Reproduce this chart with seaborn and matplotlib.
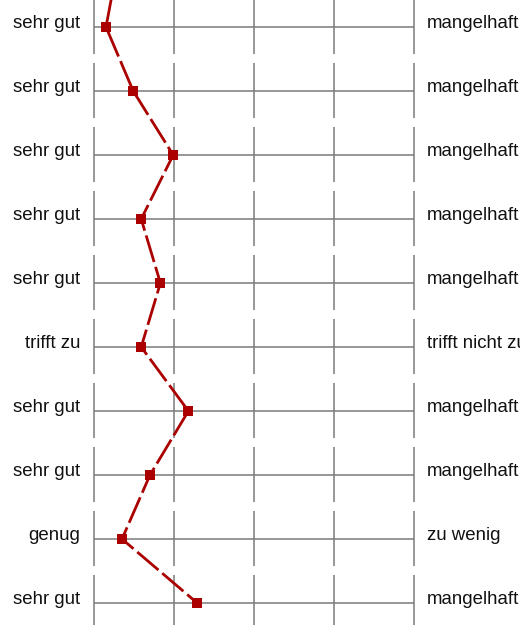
import numpy as np
import pandas as pd
import matplotlib
matplotlib.use("Agg")
import matplotlib.pyplot as plt
import seaborn as sns

# Skala 1 (links) bis 5 (rechts)
skala = [1, 2, 3, 4, 5]

# Zeilen (die erste liegt oberhalb des sichtbaren Ausschnitts)
zeilen = [-1, 0, 1, 2, 3, 4, 5, 6, 7, 8, 9]
mittelwerte = [1.30, 1.15, 1.49, 1.99, 1.59, 1.83, 1.59, 2.18, 1.70, 1.35, 2.29]

links = ["sehr gut", "sehr gut", "sehr gut", "sehr gut", "sehr gut",
         "trifft zu", "sehr gut", "sehr gut", "genug", "sehr gut"]
rechts = ["mangelhaft", "mangelhaft", "mangelhaft", "mangelhaft", "mangelhaft",
          "trifft nicht zu", "mangelhaft", "mangelhaft", "zu wenig", "mangelhaft"]


def profil_grafik():
    sns.set_theme(style="white")
    plt.rcParams["font.family"] = ["Liberation Sans", "DejaVu Sans"]

    fig = plt.figure(figsize=(5.2, 6.25), dpi=100)
    ax = fig.add_axes([0, 0, 1, 1])

    grau = "#7a7a7a"
    for i in range(len(links)):
        ax.hlines(i, skala[0], skala[-1], color=grau, lw=1.1, zorder=1)
        ax.vlines(skala, i - 28 / 64, i + 27 / 64, color=grau, lw=1.1, zorder=1)
        ax.text(skala[0] - 14 / 80, i + 1.5 / 64, links[i], ha="right", va="baseline",
                fontsize=13.4, color="#111111")
        ax.text(skala[-1] + 13 / 80, i + 1.5 / 64, rechts[i], ha="left", va="baseline",
                fontsize=13.4, color="#111111")

    df = pd.DataFrame({"wert": mittelwerte, "zeile": zeilen})
    sns.lineplot(data=df, x="wert", y="zeile", sort=False, estimator=None,
                 orient="y", color="#aa0000", lw=2.0, linestyle=(0, (10, 1.8)),
                 marker="s", markersize=6.8, markeredgewidth=0, ax=ax, zorder=3)

    # 1 Einheit = 80 px, Zeilenabstand = 64 px
    ax.set_xlim(1 - 94 / 80, 1 + 426 / 80)
    ax.set_ylim((625 - 27) / 64, -27 / 64)
    ax.set_axis_off()

    fig.savefig("out.png", dpi=100)


if __name__ == "__main__":
    profil_grafik()
